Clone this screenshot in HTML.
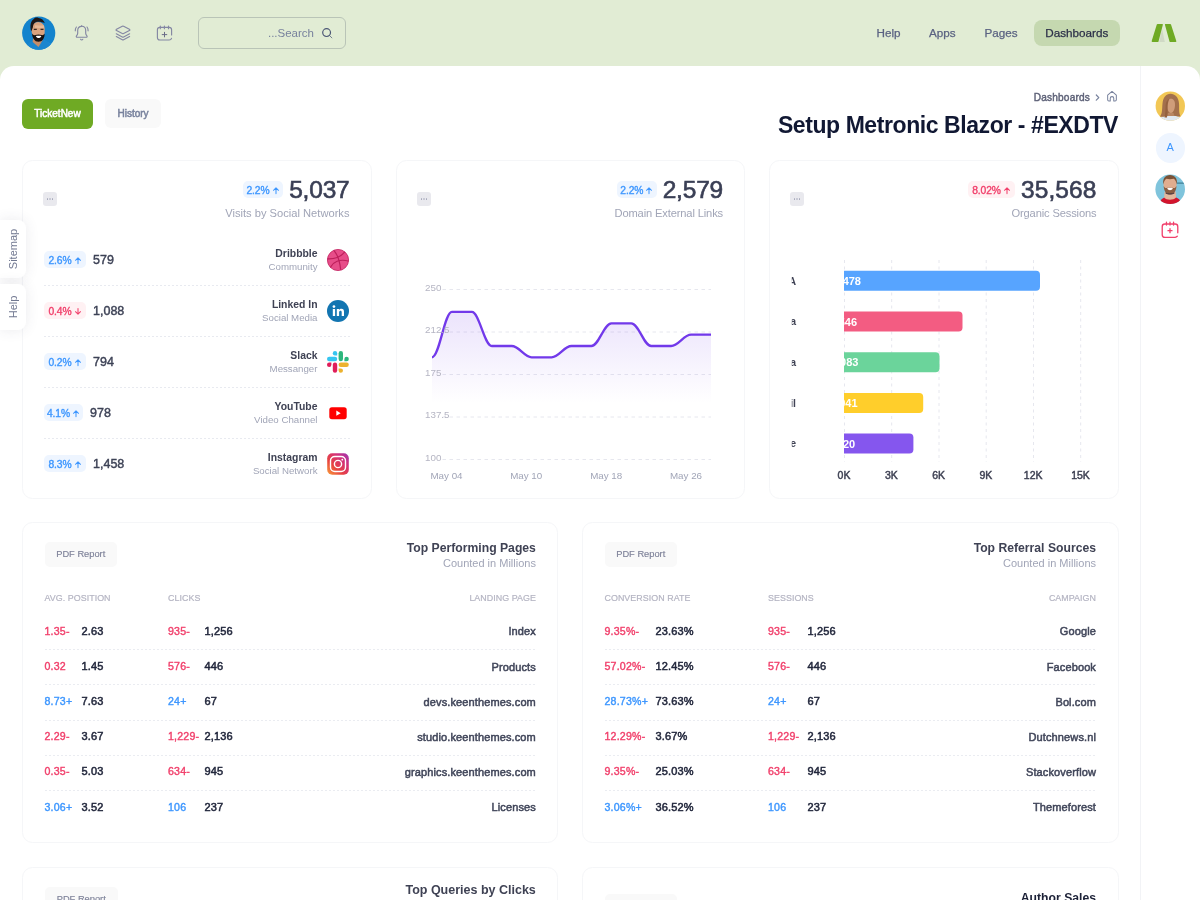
<!DOCTYPE html>
<html lang="en" dir="ltr">
<head>
<meta charset="utf-8">
<title>Setup Metronic Blazor</title>
<style>
*{box-sizing:border-box;margin:0;padding:0}
html,body{width:1200px;height:900px;overflow:hidden}
body{background:#e1ecd4;font-family:"Liberation Sans",Arial,sans-serif;color:#252f4a;position:relative;font-size:13px}
.abs{position:absolute}
.panel{position:absolute;left:0;top:66px;width:1200px;height:840px;background:#fff;border-radius:14px 14px 0 0}
.divider{position:absolute;left:1140px;top:66px;width:1px;height:840px;background:#f2f3f6}
.card{position:absolute;background:#fff;border:1px solid #f5f6f8;border-radius:10.500px}
.t{position:absolute;white-space:nowrap;line-height:1}
.r{text-align:right}
.gray{color:#a1a5b7}
.dark{color:#3f4254}
.b{font-weight:700}
/* header */
.nav{position:absolute;top:20px;height:26px;line-height:25.200px;font-size:11.700px;color:#5b6382;white-space:nowrap;-webkit-text-stroke:.25px}
.pill{background:#c5d8b0;border-radius:8px;color:#2b2f48;text-align:center}
.search{position:absolute;left:198px;top:17px;width:148px;height:32px;border:1px solid #b9c4b7;border-radius:6px}
.btn{position:absolute;border-radius:6px;font-size:10px;font-weight:400;-webkit-text-stroke:.5px;text-align:center;white-space:nowrap}
.badge{position:absolute;border-radius:5px;font-size:10.300px;font-weight:400;-webkit-text-stroke:.36px;white-space:nowrap;text-align:center;letter-spacing:-.1px}
.bl{background:#eef5ff;color:#3e97ff}
.rd{background:#fff1f3;color:#f1416c}
.menu{position:absolute;width:14px;height:14px;border-radius:3px;background:#e9e9ee;top:192px}
.menu:after{content:"";position:absolute;left:3.700px;top:6.300px;width:1.600px;height:1.600px;border-radius:1px;background:#a4a7ba;box-shadow:2.500px 0 0 #a4a7ba,5px 0 0 #a4a7ba}
.sep{position:absolute;height:1px;background:repeating-linear-gradient(90deg,#e8eaf0 0 2px,transparent 2px 4px)}
.tab{position:absolute;left:0;width:25.500px;background:#fff;border-radius:0 8px 8px 0;box-shadow:0 0 14px rgba(60,60,90,.10);z-index:5}
.tab span{position:absolute;left:50%;top:50%;transform:translate(-50%,-50%) rotate(-90deg);font-size:11px;color:#717891;white-space:nowrap;margin-left:.500px}
.big{font-size:24.500px;letter-spacing:-.2px;color:#3a3f55;font-weight:400;-webkit-text-stroke:.62px #3a3f55}
.sub{font-size:11.150px}
.arr{display:inline-block;vertical-align:-1px;margin-left:2px}
.pdf{width:72.500px;height:25px;line-height:25.500px;background:#f9f9f9;color:#7e8299;font-size:9.300px;font-weight:400;border-radius:5px;-webkit-text-stroke:.15px}
.th{font-size:8.900px;color:#b5b5c3;letter-spacing:.05px;-webkit-text-stroke:.2px}
.td{font-size:11px;font-weight:700;margin-top:.700px}
.neg{font-size:10.600px;letter-spacing:.2px;margin-top:.2px;color:#f1416c;font-weight:400;-webkit-text-stroke:.4px #f1416c}
.pos{font-size:10.600px;letter-spacing:.2px;margin-top:.2px;color:#3e97ff;font-weight:400;-webkit-text-stroke:.4px #3e97ff}
.dk{color:#22273c;font-weight:400;font-size:11px;-webkit-text-stroke:.5px;letter-spacing:.12px;margin-top:.2px}
.sb{font-weight:400;-webkit-text-stroke:.42px}
.sep2{position:absolute;height:1px;background:repeating-linear-gradient(90deg,#eaecf1 0 2px,transparent 2px 4px)}
.nm{color:#41465a;margin-top:.900px}
</style>
</head>
<body>
<!-- HEADER -->
<div id="hdr">
  <svg class="abs" style="left:20px;top:14px" width="38" height="38" viewBox="20 14 38 38">
    <defs><clipPath id="c1"><circle cx="38.700" cy="33.100" r="16.600"/></clipPath></defs>
    <circle cx="38.700" cy="33.100" r="16.600" fill="#1383cd"/>
    <g clip-path="url(#c1)">
      <path d="M44 40l14 8v4H44z" fill="#2a93da"/>
      <path d="M26 52c0-7 3-10 7-11.500l5.500 5.500l5-6c5 1.500 9 5 9 12z" fill="#1a86cf"/>
      <path d="M33 38.500l-.3 3.500l5.800 5l4-6.500l-1-3z" fill="#c58d6a"/>
      <path d="M31.500 31c-1.500-12 14.500-12 13.200-.5c.3 4-1.500 8-6.200 8.300c-4.500.2-6.500-3.800-7-7.800z" fill="#d9a27e"/>
      <path d="M35 26.500c2 .2 7 .3 9 .3" stroke="#f0c8a8" stroke-width="2.500" fill="none" opacity=".6"/>
      <path d="M31.200 31.500c-1.800-6-.2-10.500 2.300-12.300c1-1.500 3.500-2 5-1.200c3 .3 5.500 2.300 6.300 5.200c-2.500-1.300-6-1.800-8.800-1.200c-2.200.7-3 3.500-3.200 5.800z" fill="#1f1716"/>
      <path d="M33.800 29.400h3M40.500 29.400h3" stroke="#3a2a22" stroke-width="1.100"/>
      <path d="M32 33.500c.3 4.500 2.500 8.300 6.500 8.300s6-3.500 6.200-8c-1 1.200-2 1.500-3 1.300c-2-.8-4.500-.8-6.300 0c-1.500.3-2.600-.4-3.400-1.600z" fill="#17100f"/>
      <path d="M35.800 36.100c1.800-.6 4-.6 5.600 0c-.6 1.500-1.700 2-2.800 2s-2.200-.5-2.800-2z" fill="#fff"/>
    </g>
  </svg>
  <!-- bell -->
  <svg class="abs" style="left:72px;top:22px" width="20" height="22" viewBox="72 22 20 22" fill="none" stroke="#8487a3" stroke-width="1.150" stroke-linecap="round" stroke-linejoin="round">
    <path d="M81.700 26.300c-2.500 0-4 1.900-4 4.300v2.600c0 1-.5 1.800-1.200 2.600c-.5.600-.2 1.500.7 1.500h9c.9 0 1.200-.9.700-1.500c-.7-.8-1.200-1.600-1.200-2.600v-2.600c0-2.400-1.500-4.300-4-4.300z"/>
    <path d="M80.600 39.300c.3.500.6.700 1.100.700s.8-.2 1.100-.700"/>
    <path d="M76.400 27c-.8 1-1.200 2.400-1.100 3.800M87 27c.8 1 1.200 2.400 1.100 3.800"/>
    <path d="M81.700 26.300v-.6"/>
  </svg>
  <!-- layers -->
  <svg class="abs" style="left:114px;top:22px" width="20" height="22" viewBox="114 22 20 22" fill="none" stroke="#8487a3" stroke-width="1.150" stroke-linecap="round" stroke-linejoin="round">
    <path d="M122.300 26.300c.4-.2.900-.2 1.300 0l5.800 3c.6.300.6 1 0 1.300l-5.800 3c-.4.200-.9.200-1.300 0l-5.800-3c-.6-.3-.6-1 0-1.300z"/>
    <path d="M116.300 33.800l6 3.100c.4.200.9.200 1.300 0l6-3.100"/>
    <path d="M116.300 36.600l6 3.100c.4.200.9.200 1.300 0l6-3.100"/>
  </svg>
  <!-- calendar add -->
  <svg class="abs" style="left:155px;top:22px" width="20" height="22" viewBox="155 22 20 22" fill="none" stroke="#8487a3" stroke-width="1.150" stroke-linecap="round" stroke-linejoin="round">
    <path d="M171.600 35V29.800c0-1.500-1-2.500-2.500-2.500h-9.200c-1.500 0-2.500 1-2.500 2.500v7.700c0 1.500 1 2.500 2.500 2.500h9.200c1.200 0 2.100-.6 2.400-1.700"/>
    <path d="M160.300 26v2.700M164.400 26v2.700M168.500 26v2.700"/>
    <path d="M164.500 32.300v4.600M162.200 34.600h4.600" stroke="#6a6d88" stroke-width="1"/>
  </svg>
  <div class="search">
    <div class="t" style="right:31px;top:10px;font-size:11.5px;color:#78829d">...Search</div>
    <svg class="abs" style="right:11px;top:9px" width="13" height="13" viewBox="0 0 13 13" fill="none" stroke="#4b5675" stroke-width="1.200" stroke-linecap="round"><circle cx="5.600" cy="5.600" r="3.900"/><path d="M8.700 8.700l2.200 2.200" stroke-width=".9" opacity=".8"/></svg>
  </div>
  <div class="nav" style="left:876.500px">Help</div>
  <div class="nav" style="left:929px">Apps</div>
  <div class="nav" style="left:984.500px">Pages</div>
  <div class="nav pill" style="left:1033.500px;width:86.500px">Dashboards</div>
  <svg class="abs" style="left:1150px;top:23px" width="28" height="20" viewBox="0 0 28 20">
    <path d="M12 5.500L14.800 19h-5.500z" fill="#c9d3c0" opacity=".75"/>
    <path d="M7.600 1h4.600c.5 0 .8.400.6.900L8.500 18.400c-.1.400-.4.600-.8.600H2.300c-.5 0-.8-.400-.6-.900L6.800 1.600c.1-.4.400-.6.800-.6z" fill="#6faa24"/>
    <path d="M15.600 1h4.600c.4 0 .7.200.8.600l5.300 16.500c.2.500-.1.900-.6.900h-5.400c-.4 0-.7-.2-.8-.6L15 1.900c-.2-.5.100-.9.600-.9z" fill="#6faa24"/>
  </svg>
</div>
<div class="panel"></div>
<div class="divider"></div>
<!--TOOLBAR-->
<div class="btn" style="left:22px;top:99px;width:71px;height:30px;line-height:30px;background:#6faa24;color:#fff">TicketNew</div>
<div class="btn" style="left:105px;top:99px;width:56px;height:29px;line-height:29px;background:#f9f9f9;color:#78829d">History</div>
<div class="t" style="right:110px;top:93px;font-size:10.100px;color:#5e6278;-webkit-text-stroke:.42px;letter-spacing:.18px">Dashboards</div>
<svg class="abs" style="left:1094px;top:93px" width="7" height="9" viewBox="0 0 7 9" fill="none" stroke="#78829d" stroke-width="1.200" stroke-linecap="round" stroke-linejoin="round"><path d="M2.300 2l2.500 2.600l-2.500 2.600"/></svg>
<svg class="abs" style="left:1106.300px;top:89.800px" width="12" height="12.500" viewBox="0 0 13 13" preserveAspectRatio="none" fill="none" stroke="#78829d" stroke-width="1.100" stroke-linejoin="round" stroke-linecap="round"><path d="M1.800 5.400L6.500 1.500l4.700 3.900v4.800c0 .8-.5 1.300-1.300 1.300H8.400V8.600c0-1-.8-1.700-1.900-1.700s-1.900.7-1.900 1.700v2.900H3.100c-.8 0-1.300-.5-1.300-1.300z"/></svg>
<div class="t b" style="right:82px;top:114px;font-size:23px;color:#111833;letter-spacing:-.42px">Setup Metronic Blazor - #EXDTV</div>
<!--SIDEBAR-->
<svg class="abs" style="left:1154px;top:90px" width="32" height="32" viewBox="1154 90 32 32">
  <defs><clipPath id="c2"><circle cx="1170.300" cy="106.100" r="14.700"/></clipPath></defs>
  <circle cx="1170.300" cy="106.100" r="14.700" fill="#f2c755"/>
  <g clip-path="url(#c2)">
    <path d="M1158 122c.5-5 4-6.500 12.500-6.500s12 1.500 12.500 6.500z" fill="#e1e9f2"/>
    <path d="M1160 116.500c2.500-3 2-8 2.500-13c.5-6 3.500-9.800 8-9.800s8 3.500 8.500 9.500c.4 5-.5 9 1.500 13c-2 .3-5 .3-6.500-.4l-7.500.2c-1.500.8-4.500.9-6.500.5z" fill="#a3704d"/>
    <path d="M1166.800 104.500c0-4 1.600-5.800 4-5.800s4.200 1.800 4.200 5.800c0 4-1.500 8.500-4.100 8.500s-4.100-4.500-4.100-8.500z" fill="#cf9d7a"/>
    <path d="M1168 113h5.500l.8 3h-7z" fill="#b98663"/>
    <path d="M1164.500 117.500c1-4 1-9 1.200-13c.5-3.500 2-5.500 4-6c-1.200 2-1.800 4-2 7c-.2 4 0 8-.7 12z" fill="#94613f"/>
  </g>
</svg>
<div class="abs" style="left:1155.500px;top:133px;width:29.500px;height:29.500px;border-radius:50%;background:#eef5ff;color:#3e97ff;font-size:11px;line-height:29.500px;text-align:center">A</div>
<svg class="abs" style="left:1154px;top:173px" width="32" height="32" viewBox="1154 173 32 32">
  <defs><clipPath id="c3"><circle cx="1170.200" cy="189.300" r="14.800"/></clipPath></defs>
  <circle cx="1170.200" cy="189.300" r="14.800" fill="#7fc4dc"/>
  <g clip-path="url(#c3)">
    <path d="M1177 183.200h7" stroke="#3f7f96" stroke-width="1.200"/>
    <path d="M1159 206c.5-5.500 3-8 6.500-9h9.500c3.500 1 6.500 3.500 7 9z" fill="#d3142c"/>
    <path d="M1164.500 192l-.3 5.500c2 3 9.500 3 11.800 0l-.3-6z" fill="#e3b79c"/>
    <path d="M1163.500 184c-.5-5 2.500-8 6.500-8s7 3 6.600 8c-.2 5.500-2.600 10-6.600 10s-6.300-4.500-6.500-10z" fill="#e0ad8f"/>
    <path d="M1163.300 184.500c-.8-6 2-9.500 6.700-9.500s7.800 3.500 6.800 9.500c-.5-3-1.800-5.300-3-5.800c-2.500.6-5 .6-7.400 0c-1.300.5-2.600 2.800-3.100 5.800z" fill="#7b5236"/>
    <path d="M1163.600 186c.4 5 2.600 8.600 6.400 8.600s6.200-3.600 6.500-8.600c-.8 1.500-1.800 2.300-2.800 2c-2-.8-5.300-.8-7.300 0c-1 .3-2-.5-2.800-2z" fill="#8a5e42"/>
    <path d="M1165.500 193c1.500 1.300 7.300 1.300 9 0" stroke="#3d3140" stroke-width=".9" fill="none"/>
    <path d="M1167.200 188.300c1.700-.6 4-.6 5.700 0c-.6 1.400-1.700 1.900-2.900 1.900s-2.200-.5-2.800-1.900z" fill="#fff"/>
  </g>
</svg>
<svg class="abs" style="left:1160.300px;top:220.300px" width="20" height="20" viewBox="0 0 18 18" fill="none" stroke="#f1416c" stroke-width="1.200" stroke-linecap="round" stroke-linejoin="round">
  <path d="M16 11.500V6c0-1.400-1-2.400-2.400-2.400H4.400C3 3.600 2 4.600 2 6v7.200c0 1.400 1 2.400 2.400 2.400h9.200c.9 0 1.600-.4 2-1"/>
  <path d="M5.800 2v2.600M9 2v2.600M12.200 2v2.600"/>
  <path d="M9 7.800v3.600M7.200 9.600h3.600"/>
</svg>
<div class="tab" style="top:220px;height:58px"><span>Sitemap</span></div>
<div class="tab" style="top:284px;height:46px"><span>Help</span></div>
<!--CARD1-->
<div class="card" style="left:22px;top:160px;width:349.500px;height:338.800px"></div>
<div class="menu" style="left:43px"></div>
<div class="t big" style="right:850.500px;top:177.500px">5,037</div>
<div class="badge bl" style="left:243px;top:181px;width:40px;height:17px;line-height:19.800px">2.2%<svg class="arr" width="8" height="9" viewBox="0 0 8 9" fill="none" stroke="currentColor" stroke-width="1.050" stroke-linecap="round" stroke-linejoin="round"><path d="M4 7.600V2M1.500 4.300L4 1.800L6.500 4.300"/></svg></div>
<div class="t gray sub" style="right:850.500px;top:208.300px">Visits by Social Networks</div>
<svg class="abs" style="left:327.200px;top:249px" width="22" height="22" viewBox="0 0 22 22"><circle cx="11" cy="11" r="10.600" fill="#e74d89" stroke="#c32361" stroke-width=".8"/><g fill="none" stroke="#bd1f5b" stroke-width="1.200" stroke-linecap="round"><path d="M7.200 1.800c3.200 3.800 5.400 9.300 6.400 18.400"/><path d="M.8 9.800c6.500.3 12.500-1.400 16.800-6.600"/><path d="M3.600 18c2.600-5 8.800-8.300 17.600-6"/></g></svg>
<div class="t dark b" style="right:882.500px;top:248.9px;font-size:10.400px">Dribbble</div>
<div class="t gray" style="right:882.500px;top:262.4px;font-size:9.700px">Community</div>
<div class="badge bl" style="left:44.400px;top:251px;width:41.200px;height:17px;line-height:19.800px">2.6%<svg class="arr" width="8" height="9" viewBox="0 0 8 9" fill="none" stroke="currentColor" stroke-width="1.050" stroke-linecap="round" stroke-linejoin="round"><path d="M4 7.600V2M1.500 4.300L4 1.800L6.500 4.300"/></svg></div>
<div class="t sb" style="color:#3d4256;left:93px;top:253.9px;font-size:12.500px">579</div>
<div class="sep" style="left:44px;width:306px;top:285px"></div>
<svg class="abs" style="left:327.200px;top:300px" width="22" height="22" viewBox="0 0 22 22"><circle cx="11" cy="11" r="11" fill="#1275b1"/><g fill="#fff"><rect x="5.800" y="9" width="2.300" height="7"/><circle cx="6.950" cy="6.600" r="1.350"/><path d="M9.800 9h2.200v1c.5-.8 1.400-1.200 2.400-1.200c1.900 0 2.600 1.200 2.600 3V16h-2.300v-3.700c0-.9-.3-1.500-1.200-1.500s-1.400.6-1.400 1.500V16H9.800z"/></g></svg>
<div class="t dark b" style="right:882.500px;top:299.9px;font-size:10.400px">Linked In</div>
<div class="t gray" style="right:882.500px;top:313.4px;font-size:9.700px">Social Media</div>
<div class="badge rd" style="left:44.400px;top:302px;width:41.200px;height:17px;line-height:19.800px">0.4%<svg class="arr" width="8" height="9" viewBox="0 0 8 9" fill="none" stroke="currentColor" stroke-width="1.050" stroke-linecap="round" stroke-linejoin="round"><path d="M4 1.400v5.600M1.500 4.700L4 7.200L6.500 4.700"/></svg></div>
<div class="t sb" style="color:#3d4256;left:93px;top:304.9px;font-size:12.500px">1,088</div>
<div class="sep" style="left:44px;width:306px;top:336px"></div>
<svg class="abs" style="left:327.300px;top:351px" width="22" height="22" viewBox="0 0 22 22"><rect x="0" y="5.800" width="10.200" height="4.400" rx="2.200" fill="#36c5f0"/><rect x="11.600" y="0" width="4.400" height="10.200" rx="2.200" fill="#2eb67d"/><rect x="5.800" y="11.600" width="4.400" height="10.200" rx="2.200" fill="#e01e5a"/><rect x="11.600" y="11.600" width="10.200" height="4.400" rx="2.200" fill="#ecb22e"/><path d="M8 0.0a2.2 2.2 0 1 0 0 4.4H10.2V2.2a2.2 2.2 0 0 0 -2.2 -2.2z" fill="#36c5f0"/><path d="M19.6 5.8a2.2 2.2 0 1 1 0 4.4H17.400000000000002V8a2.2 2.2 0 0 1 2.2 -2.2z" fill="#2eb67d"/><path d="M2.2 16.0a2.2 2.2 0 1 1 0 -4.4H4.4V13.8a2.2 2.2 0 0 1 -2.2 2.2z" fill="#e01e5a"/><path d="M13.8 21.8a2.2 2.2 0 1 0 0 -4.4H11.600000000000001V19.6a2.2 2.2 0 0 0 2.2 2.2z" fill="#ecb22e"/></svg>
<div class="t dark b" style="right:882.500px;top:350.9px;font-size:10.400px">Slack</div>
<div class="t gray" style="right:882.500px;top:364.4px;font-size:9.700px">Messanger</div>
<div class="badge bl" style="left:44.400px;top:353px;width:41.200px;height:17px;line-height:19.800px">0.2%<svg class="arr" width="8" height="9" viewBox="0 0 8 9" fill="none" stroke="currentColor" stroke-width="1.050" stroke-linecap="round" stroke-linejoin="round"><path d="M4 7.600V2M1.500 4.300L4 1.800L6.500 4.300"/></svg></div>
<div class="t sb" style="color:#3d4256;left:93px;top:355.9px;font-size:12.500px">794</div>
<div class="sep" style="left:44px;width:306px;top:387px"></div>
<svg class="abs" style="left:327.200px;top:402px" width="22" height="22" viewBox="0 0 22 22"><rect x="2.300" y="5.200" width="17.400" height="12" rx="2.600" fill="#ff0000"/><path d="M9.300 8.600l4.400 2.600l-4.400 2.600z" fill="#fff"/></svg>
<div class="t dark b" style="right:882.500px;top:401.9px;font-size:10.400px">YouTube</div>
<div class="t gray" style="right:882.500px;top:415.4px;font-size:9.700px">Video Channel</div>
<div class="badge bl" style="left:44.400px;top:404px;width:38.200px;height:17px;line-height:19.800px">4.1%<svg class="arr" width="8" height="9" viewBox="0 0 8 9" fill="none" stroke="currentColor" stroke-width="1.050" stroke-linecap="round" stroke-linejoin="round"><path d="M4 7.600V2M1.500 4.300L4 1.800L6.500 4.300"/></svg></div>
<div class="t sb" style="color:#3d4256;left:90px;top:406.9px;font-size:12.500px">978</div>
<div class="sep" style="left:44px;width:306px;top:438px"></div>
<svg class="abs" style="left:327.200px;top:453px" width="22" height="22" viewBox="0 0 22 22"><defs><linearGradient id="ig" x1="0" y1="1" x2="1" y2="0"><stop offset="0" stop-color="#f9a03c"/><stop offset=".35" stop-color="#e8443f"/><stop offset=".7" stop-color="#d2307b"/><stop offset="1" stop-color="#9b38b5"/></linearGradient></defs><rect x=".2" y=".2" width="21.600" height="21.600" rx="5" fill="url(#ig)"/><rect x="3.500" y="3.500" width="15" height="15" rx="4.300" fill="none" stroke="#fff" stroke-width="1.400"/><circle cx="11" cy="11" r="3.600" fill="none" stroke="#fff" stroke-width="1.400"/><circle cx="15.300" cy="6.700" r=".9" fill="#fff"/></svg>
<div class="t dark b" style="right:882.500px;top:452.9px;font-size:10.400px">Instagram</div>
<div class="t gray" style="right:882.500px;top:466.4px;font-size:9.700px">Social Network</div>
<div class="badge bl" style="left:44.400px;top:455px;width:41.200px;height:17px;line-height:19.800px">8.3%<svg class="arr" width="8" height="9" viewBox="0 0 8 9" fill="none" stroke="currentColor" stroke-width="1.050" stroke-linecap="round" stroke-linejoin="round"><path d="M4 7.600V2M1.500 4.300L4 1.800L6.500 4.300"/></svg></div>
<div class="t sb" style="color:#3d4256;left:93px;top:457.9px;font-size:12.500px">1,458</div>
<!--CARD2-->
<div class="card" style="left:395.750px;top:160px;width:349.500px;height:338.800px"></div>
<div class="menu" style="left:417px"></div>
<div class="t big" style="right:477px;top:177.500px">2,579</div>
<div class="badge bl" style="left:616.500px;top:181px;width:40.800px;height:17px;line-height:19.800px">2.2%<svg class="arr" width="8" height="9" viewBox="0 0 8 9" fill="none" stroke="currentColor" stroke-width="1.050" stroke-linecap="round" stroke-linejoin="round"><path d="M4 7.600V2M1.500 4.300L4 1.800L6.500 4.300"/></svg></div>
<div class="t gray sub" style="right:477px;top:208.300px;letter-spacing:-.14px">Domain External Links</div>
<svg class="abs" style="left:396px;top:260px" width="349" height="238" viewBox="396 260 349 238">
  <defs><linearGradient id="ag" x1="0" y1="0" x2="0" y2="1"><stop offset="0" stop-color="#7239ea" stop-opacity=".14"/><stop offset=".62" stop-color="#7239ea" stop-opacity="0"/><stop offset="1" stop-color="#7239ea" stop-opacity="0"/></linearGradient></defs>
  <g stroke="#e6e7ee" stroke-width="1" stroke-dasharray="3.500 3.500">
    <path d="M442.500 289.500H711M442.500 332H711M442.500 374.500H711M442.500 417H711M442.500 459.500H711"/>
  </g>
  <path d="M432.0 357.3C439.4 357.3 444.5 311.9 451.9 311.9C459.3 311.9 464.5 311.9 471.9 311.9C479.2 311.9 484.4 346.0 491.8 346.0C499.2 346.0 504.3 346.0 511.7 346.0C519.1 346.0 524.3 357.3 531.6 357.3C539.0 357.3 544.2 357.3 551.6 357.3C559.0 357.3 564.1 346.0 571.5 346.0C578.9 346.0 584.0 346.0 591.4 346.0C598.8 346.0 604.0 323.3 611.4 323.3C618.7 323.3 623.9 323.3 631.3 323.3C638.7 323.3 643.8 346.0 651.2 346.0C658.6 346.0 663.8 346.0 671.1 346.0C678.5 346.0 683.7 334.6 691.1 334.6C698.5 334.6 703.6 334.6 711.0 334.6L711 459.5L432 459.5Z" fill="url(#ag)"/>
  <path d="M432.0 357.3C439.4 357.3 444.5 311.9 451.9 311.9C459.3 311.9 464.5 311.9 471.9 311.9C479.2 311.9 484.4 346.0 491.8 346.0C499.2 346.0 504.3 346.0 511.7 346.0C519.1 346.0 524.3 357.3 531.6 357.3C539.0 357.3 544.2 357.3 551.6 357.3C559.0 357.3 564.1 346.0 571.5 346.0C578.9 346.0 584.0 346.0 591.4 346.0C598.8 346.0 604.0 323.3 611.4 323.3C618.7 323.3 623.9 323.3 631.3 323.3C638.7 323.3 643.8 346.0 651.2 346.0C658.6 346.0 663.8 346.0 671.1 346.0C678.5 346.0 683.7 334.6 691.1 334.6C698.5 334.6 703.6 334.6 711.0 334.6" fill="none" stroke="#7239ea" stroke-width="2.300" stroke-linecap="butt" stroke-linejoin="round"/>
  <g font-size="9.800" fill="#b5b5c3" font-family="Liberation Sans, sans-serif">
    <text x="425" y="290.500">250</text><text x="425" y="333">212.5</text><text x="425" y="375.500">175</text><text x="425" y="418">137.5</text><text x="425" y="460.500">100</text>
  </g>
  <g font-size="9.800" fill="#a1a5b7" font-family="Liberation Sans, sans-serif" text-anchor="middle">
    <text x="446.500" y="479">May 04</text><text x="526.200" y="479">May 10</text><text x="606.200" y="479">May 18</text><text x="686" y="479">May 26</text>
  </g>
</svg>
<!--CARD3-->
<div class="card" style="left:769px;top:160px;width:350px;height:338.800px"></div>
<div class="menu" style="left:790px"></div>
<div class="t big" style="right:103.500px;top:177.500px;letter-spacing:.1px">35,568</div>
<div class="badge rd" style="left:968.200px;top:181px;width:46.600px;height:17px;line-height:19.800px">8.02%<svg class="arr" width="8" height="9" viewBox="0 0 8 9" fill="none" stroke="currentColor" stroke-width="1.050" stroke-linecap="round" stroke-linejoin="round"><path d="M4 7.600V2M1.500 4.300L4 1.800L6.500 4.300"/></svg></div>
<div class="t gray sub" style="right:103.500px;top:208.300px;letter-spacing:-.14px">Organic Sessions</div>
<svg class="abs" style="left:770px;top:255px" width="349" height="240" viewBox="770 255 349 240" font-family="Liberation Sans, sans-serif">
  <defs><clipPath id="pc"><rect x="844" y="255" width="260" height="210"/></clipPath><clipPath id="yc"><rect x="791.800" y="255" width="40" height="210"/></clipPath></defs>
  <g stroke="#e6e7ee" stroke-width="1" stroke-dasharray="3 3.500">
    <path d="M844.500 260V462M891.700 260V462M939 260V462M986.200 260V462M1033.500 260V462M1080.700 260V462"/>
  </g>
  <path d="M844 270.8h192.0a4 4 0 0 1 4 4v12a4 4 0 0 1 -4 4H844z" fill="#57a4ff"/>
  <text x="861" y="284.8" text-anchor="end" font-size="11" font-weight="700" fill="#fff" clip-path="url(#pc)">12,478</text>
  <text x="796" y="284.6" text-anchor="end" font-size="10.500" font-weight="700" fill="#3f4254" clip-path="url(#yc)">USA</text>
  <path d="M844 311.5h114.5a4 4 0 0 1 4 4v12a4 4 0 0 1 -4 4H844z" fill="#f35c82"/>
  <text x="857" y="325.5" text-anchor="end" font-size="11" font-weight="700" fill="#fff" clip-path="url(#pc)">7,546</text>
  <text x="796" y="325.3" text-anchor="end" font-size="10.500" font-weight="700" fill="#3f4254" clip-path="url(#yc)">India</text>
  <path d="M844 352.2h91.5a4 4 0 0 1 4 4v12a4 4 0 0 1 -4 4H844z" fill="#6bd49b"/>
  <text x="858.4" y="366.2" text-anchor="end" font-size="11" font-weight="700" fill="#fff" clip-path="url(#pc)">6,083</text>
  <text x="796" y="366.0" text-anchor="end" font-size="10.500" font-weight="700" fill="#3f4254" clip-path="url(#yc)">Canada</text>
  <path d="M844 392.9h75.2a4 4 0 0 1 4 4v12a4 4 0 0 1 -4 4H844z" fill="#ffce2b"/>
  <text x="857.6" y="406.9" text-anchor="end" font-size="11" font-weight="700" fill="#fff" clip-path="url(#pc)">5,041</text>
  <text x="796" y="406.7" text-anchor="end" font-size="10.500" font-weight="700" fill="#3f4254" clip-path="url(#yc)">Brasil</text>
  <path d="M844 433.6h65.4a4 4 0 0 1 4 4v12a4 4 0 0 1 -4 4H844z" fill="#8556ee"/>
  <text x="855.2" y="447.6" text-anchor="end" font-size="11" font-weight="700" fill="#fff" clip-path="url(#pc)">4,420</text>
  <text x="796" y="447.4" text-anchor="end" font-size="10.500" font-weight="700" fill="#3f4254" clip-path="url(#yc)">France</text>
  <g font-size="10.500" font-weight="400" fill="#3f4254" stroke="#3f4254" stroke-width=".45" text-anchor="middle">
<text x="844.0" y="479.400">0K</text><text x="891.3" y="479.400">3K</text><text x="938.6" y="479.400">6K</text><text x="985.9" y="479.400">9K</text><text x="1033.2" y="479.400">12K</text><text x="1080.5" y="479.400">15K</text>
  </g>
</svg>
<!--TABLE1-->
<div class="card" style="left:22px;top:522px;width:536.250px;height:321px"></div>
<div class="btn pdf" style="left:44.500px;top:542px">PDF Report</div>
<div class="t dark b" style="right:664.1px;top:542.3px;font-size:12.200px">Top Performing Pages</div>
<div class="t gray" style="right:664.1px;top:558px;font-size:11px">Counted in Millions</div>
<div class="t th" style="left:44.5px;top:594px">AVG. POSITION</div>
<div class="t th" style="left:168px;top:594px">CLICKS</div>
<div class="t th" style="right:664.1px;top:594px">LANDING PAGE</div>
<div class="t td neg" style="left:44.5px;top:625.5px">1.35-</div><div class="t td dk" style="left:81.5px;top:625.5px">2.63</div><div class="t td neg" style="left:168px;top:625.5px">935-</div><div class="t td dk" style="left:204.5px;top:625.5px">1,256</div><div class="t td dk nm" style="right:664.1px;top:625.5px">Index</div>
<div class="sep2" style="left:44.5px;width:491px;top:649.1px"></div>
<div class="t td neg" style="left:44.5px;top:660.7px">0.32</div><div class="t td dk" style="left:81.5px;top:660.7px">1.45</div><div class="t td neg" style="left:168px;top:660.7px">576-</div><div class="t td dk" style="left:204.5px;top:660.7px">446</div><div class="t td dk nm" style="right:664.1px;top:660.7px">Products</div>
<div class="sep2" style="left:44.5px;width:491px;top:684.3px"></div>
<div class="t td pos" style="left:44.5px;top:695.9px">8.73+</div><div class="t td dk" style="left:81.5px;top:695.9px">7.63</div><div class="t td pos" style="left:168px;top:695.9px">24+</div><div class="t td dk" style="left:204.5px;top:695.9px">67</div><div class="t td dk nm" style="right:664.1px;top:695.9px">devs.keenthemes.com</div>
<div class="sep2" style="left:44.5px;width:491px;top:719.5px"></div>
<div class="t td neg" style="left:44.5px;top:731.1px">2.29-</div><div class="t td dk" style="left:81.5px;top:731.1px">3.67</div><div class="t td neg" style="left:168px;top:731.1px">1,229-</div><div class="t td dk" style="left:204.5px;top:731.1px">2,136</div><div class="t td dk nm" style="right:664.1px;top:731.1px">studio.keenthemes.com</div>
<div class="sep2" style="left:44.5px;width:491px;top:754.7px"></div>
<div class="t td neg" style="left:44.5px;top:766.3px">0.35-</div><div class="t td dk" style="left:81.5px;top:766.3px">5.03</div><div class="t td neg" style="left:168px;top:766.3px">634-</div><div class="t td dk" style="left:204.5px;top:766.3px">945</div><div class="t td dk nm" style="right:664.1px;top:766.3px">graphics.keenthemes.com</div>
<div class="sep2" style="left:44.5px;width:491px;top:789.9px"></div>
<div class="t td pos" style="left:44.5px;top:801.5px">3.06+</div><div class="t td dk" style="left:81.5px;top:801.5px">3.52</div><div class="t td pos" style="left:168px;top:801.5px">106</div><div class="t td dk" style="left:204.5px;top:801.5px">237</div><div class="t td dk nm" style="right:664.1px;top:801.5px">Licenses</div>
<!--TABLE2-->
<div class="card" style="left:582px;top:522px;width:536.800px;height:321px"></div>
<div class="btn pdf" style="left:604.5px;top:542px">PDF Report</div>
<div class="t dark b" style="right:104px;top:542.3px;font-size:12.200px">Top Referral Sources</div>
<div class="t gray" style="right:104px;top:558px;font-size:11px">Counted in Millions</div>
<div class="t th" style="left:604.5px;top:594px">CONVERSION RATE</div>
<div class="t th" style="left:768px;top:594px">SESSIONS</div>
<div class="t th" style="right:104px;top:594px">CAMPAIGN</div>
<div class="t td neg" style="left:604.5px;top:625.5px">9.35%-</div><div class="t td dk" style="left:655.5px;top:625.5px">23.63%</div><div class="t td neg" style="left:768px;top:625.5px">935-</div><div class="t td dk" style="left:807.5px;top:625.5px">1,256</div><div class="t td dk nm" style="right:104px;top:625.5px">Google</div>
<div class="sep2" style="left:604.5px;width:491px;top:649.1px"></div>
<div class="t td neg" style="left:604.5px;top:660.7px">57.02%-</div><div class="t td dk" style="left:655.5px;top:660.7px">12.45%</div><div class="t td neg" style="left:768px;top:660.7px">576-</div><div class="t td dk" style="left:807.5px;top:660.7px">446</div><div class="t td dk nm" style="right:104px;top:660.7px">Facebook</div>
<div class="sep2" style="left:604.5px;width:491px;top:684.3px"></div>
<div class="t td pos" style="left:604.5px;top:695.9px">28.73%+</div><div class="t td dk" style="left:655.5px;top:695.9px">73.63%</div><div class="t td pos" style="left:768px;top:695.9px">24+</div><div class="t td dk" style="left:807.5px;top:695.9px">67</div><div class="t td dk nm" style="right:104px;top:695.9px">Bol.com</div>
<div class="sep2" style="left:604.5px;width:491px;top:719.5px"></div>
<div class="t td neg" style="left:604.5px;top:731.1px">12.29%-</div><div class="t td dk" style="left:655.5px;top:731.1px">3.67%</div><div class="t td neg" style="left:768px;top:731.1px">1,229-</div><div class="t td dk" style="left:807.5px;top:731.1px">2,136</div><div class="t td dk nm" style="right:104px;top:731.1px">Dutchnews.nl</div>
<div class="sep2" style="left:604.5px;width:491px;top:754.7px"></div>
<div class="t td neg" style="left:604.5px;top:766.3px">9.35%-</div><div class="t td dk" style="left:655.5px;top:766.3px">25.03%</div><div class="t td neg" style="left:768px;top:766.3px">634-</div><div class="t td dk" style="left:807.5px;top:766.3px">945</div><div class="t td dk nm" style="right:104px;top:766.3px">Stackoverflow</div>
<div class="sep2" style="left:604.5px;width:491px;top:789.9px"></div>
<div class="t td pos" style="left:604.5px;top:801.5px">3.06%+</div><div class="t td dk" style="left:655.5px;top:801.5px">36.52%</div><div class="t td pos" style="left:768px;top:801.5px">106</div><div class="t td dk" style="left:807.5px;top:801.5px">237</div><div class="t td dk nm" style="right:104px;top:801.5px">Themeforest</div>
<!--BOTTOM-->
<div class="card" style="left:22px;top:867px;width:536.250px;height:60px"></div>
<div class="card" style="left:582px;top:867px;width:536.800px;height:60px"></div>
<div class="btn pdf" style="left:45px;top:887px">PDF Report</div>
<div class="btn pdf" style="left:604.500px;top:893.500px">PDF Report</div>
<div class="t dark b" style="right:664.200px;top:884px;font-size:12.500px">Top Queries by Clicks</div>
<div class="t b" style="right:104px;top:892px;font-size:12.200px;color:#1c2137">Author Sales</div>
</body>
</html>
